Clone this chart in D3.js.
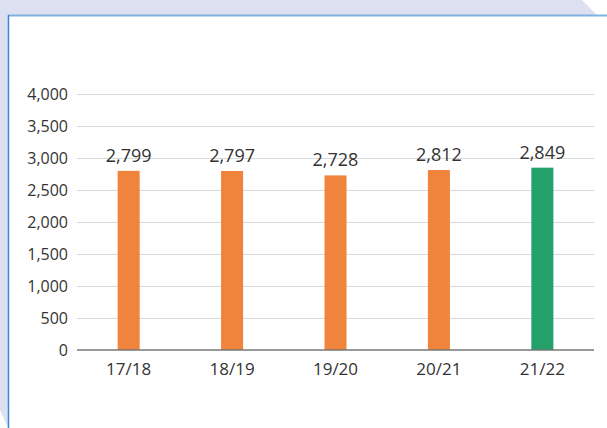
<!DOCTYPE html>
<html><head><meta charset="utf-8">
<script src="https://cdn.jsdelivr.net/npm/d3@7"></script>
<style>html,body{margin:0;padding:0;background:#fff;}svg{display:block;font-family:"Open Sans",sans-serif;}</style>
</head><body>
<svg id="c" width="607" height="428"></svg>
<script>
const categories = ["17/18","18/19","19/20","20/21","21/22"];
const values = [2799, 2797, 2728, 2812, 2849];
const highlight = [false, false, false, false, true];
const yTicks = [0,500,1000,1500,2000,2500,3000,3500,4000];

const svg = d3.select("#c");
// frame
svg.append("path").attr("d","M0,0 L582,0 L597,15 L8,15 L8,428 L0,410 Z").attr("fill","#dce0f1");
svg.append("line").attr("x1",8).attr("x2",607).attr("y1",15.5).attr("y2",15.5).attr("stroke","#7fb2e0").attr("stroke-width",2);
svg.append("line").attr("x1",8.5).attr("x2",8.5).attr("y1",15).attr("y2",428).attr("stroke","#3a87d4").attr("stroke-width",1.5);

const x = d3.scaleBand().domain(categories).range([77,594]).paddingInner(0.787).paddingOuter(0.393);
const y = d3.scaleLinear().domain([0,4000]).range([350,94]);

const g = svg.append("g");
// gridlines
g.selectAll(".grid").data(yTicks.slice(1)).join("line")
 .attr("x1",77).attr("x2",594).attr("y1",d=>Math.round(y(d))+0.5).attr("y2",d=>Math.round(y(d))+0.5)
 .attr("stroke","#d9d9d9").attr("stroke-width",1);

// y axis labels
const ya = svg.append("g").attr("transform","translate(77,0)")
 .call(d3.axisLeft(y).tickValues(yTicks).tickSize(0).tickPadding(9).tickFormat(d3.format(",")));
ya.select(".domain").remove();
ya.selectAll("text").attr("fill","#333").style("font-size","16px").style("font-family","'Open Sans',sans-serif");

// bars
g.selectAll(".bar").data(values).join("rect")
 .attr("x",(d,i)=>x(categories[i])).attr("width",x.bandwidth())
 .attr("y",d=>y(d)).attr("height",d=>y(0)-y(d))
 .attr("fill",(d,i)=>highlight[i]?"#24a06a":"#f0843c");

// value labels
g.selectAll(".val").data(values).join("text")
 .attr("x",(d,i)=>x(categories[i])+x.bandwidth()/2).attr("y",d=>y(d)-9)
 .attr("text-anchor","middle").attr("fill","#333").style("font-size","18px")
 .text(d=>d3.format(",")(d));

// x axis
const xa = svg.append("g").attr("transform","translate(0,350)")
 .call(d3.axisBottom(x).tickSize(0).tickPadding(13));
xa.select(".domain").attr("stroke","#777").attr("stroke-width",1.5).attr("d","M77,0H594");
xa.selectAll("text").attr("fill","#333").style("font-size","17px").style("font-family","'Open Sans',sans-serif");
</script>
</body></html>
